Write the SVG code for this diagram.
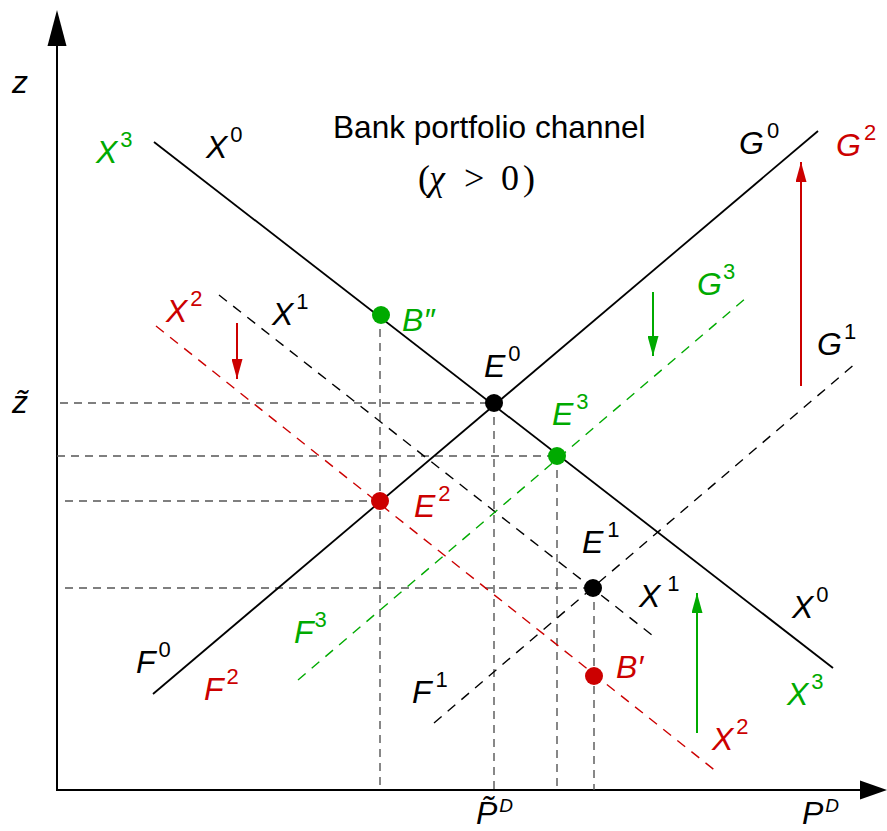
<svg xmlns="http://www.w3.org/2000/svg" width="887" height="831" viewBox="0 0 887 831">
<style>
.lab{font-family:"Liberation Sans",Arial,sans-serif;font-size:32px;font-style:italic}
.sup{font-size:22px;font-style:normal}
.supi{font-size:19px;font-style:italic}
.k{fill:#000}.r{fill:#cc0000}.g{fill:#00aa00}
.solid{stroke:#000;stroke-width:1.8;fill:none}
.dk{stroke:#000;stroke-width:1.4;stroke-dasharray:10 8;fill:none}
.dr{stroke:#cc0000;stroke-width:1.4;stroke-dasharray:10 8;fill:none}
.dg{stroke:#00aa00;stroke-width:1.4;stroke-dasharray:10 8;fill:none}
.guide{stroke:#555;stroke-width:1.4;stroke-dasharray:8 6;fill:none}
.axis{stroke:#000;stroke-width:2;fill:none}
</style>
<defs>
<marker id="ahR" markerUnits="userSpaceOnUse" markerWidth="20" markerHeight="11" refX="20" refY="5.5" orient="auto"><path d="M0,0 L20,5.5 L0,11 z" fill="#cc0000"/></marker>
<marker id="ahG" markerUnits="userSpaceOnUse" markerWidth="20" markerHeight="11" refX="20" refY="5.5" orient="auto"><path d="M0,0 L20,5.5 L0,11 z" fill="#00aa00"/></marker>
</defs>
<rect width="887" height="831" fill="#fff"/>
<g id="axes">
<line class="axis" x1="57" y1="791" x2="57" y2="40"/>
<polygon points="57,10 47.5,46 66.5,46" fill="#000"/>
<line class="axis" x1="56" y1="790" x2="862" y2="790"/>
<polygon points="887,790 860,780.5 860,799.5" fill="#000"/>
</g>
<g id="connectors">
<g id="guides">
<line class="guide" x1="60" y1="403" x2="494" y2="403"/>
<line class="guide" x1="57" y1="456" x2="557" y2="456"/>
<line class="guide" x1="65" y1="501" x2="380" y2="501"/>
<line class="guide" x1="65" y1="588" x2="593" y2="588"/>
<line class="guide" x1="380" y1="315" x2="380" y2="790"/>
<line class="guide" x1="494" y1="403" x2="494" y2="790"/>
<line class="guide" x1="557" y1="456" x2="557" y2="790"/>
<line class="guide" x1="594" y1="588" x2="594" y2="790"/>
</g>
<line id="X0" class="solid" x1="154" y1="142" x2="833" y2="668"/>
<line id="G0" class="solid" x1="153" y1="694" x2="818" y2="131"/>
<line id="X1" class="dk" x1="219" y1="295" x2="657" y2="639"/>
<line id="G1" class="dk" x1="434" y1="723" x2="856" y2="363"/>
<line id="X2" class="dr" x1="156" y1="326" x2="717" y2="772"/>
<line id="G3" class="dg" x1="298" y1="680" x2="746" y2="298"/>
<line id="arrR1" stroke="#cc0000" stroke-width="2" x1="801" y1="386" x2="801" y2="162" marker-end="url(#ahR)"/>
<line id="arrR2" stroke="#cc0000" stroke-width="2" x1="237" y1="323" x2="237" y2="379" marker-end="url(#ahR)"/>
<line id="arrG1" stroke="#00aa00" stroke-width="2" x1="653" y1="292" x2="653" y2="356" marker-end="url(#ahG)"/>
<line id="arrG2" stroke="#00aa00" stroke-width="2" x1="697" y1="733" x2="697" y2="593" marker-end="url(#ahG)"/>
</g>
<g id="E0"><circle cx="494" cy="403" r="9" fill="#000"/><text class="lab k" x="484" y="377">E<tspan class="sup" dx="3" dy="-16">0</tspan></text></g>
<g id="E3"><circle cx="557" cy="456" r="9" fill="#00aa00"/><text class="lab g" x="552" y="425">E<tspan class="sup" dx="3" dy="-16">3</tspan></text></g>
<g id="E2"><circle cx="380" cy="501" r="9" fill="#cc0000"/><text class="lab r" x="414" y="517">E<tspan class="sup" dx="3" dy="-16">2</tspan></text></g>
<g id="E1"><circle cx="593" cy="588" r="9" fill="#000"/><text class="lab k" x="582" y="553">E<tspan class="sup" dx="4" dy="-16">1</tspan></text></g>
<g id="B1"><circle cx="594" cy="676" r="9" fill="#cc0000"/><text class="lab r" x="616" y="678">B′</text></g>
<g id="B2"><circle cx="381" cy="315" r="9" fill="#00aa00"/><text class="lab g" x="402" y="331">B″</text></g>
<g id="labels">
<text class="lab k" x="12" y="93">z</text>
<text class="lab k" x="12" y="413">z̃</text>
<text class="lab g" x="96" y="163">X<tspan class="sup" dx="3" dy="-16">3</tspan></text>
<text class="lab k" x="206" y="158">X<tspan class="sup" dx="3" dy="-16">0</tspan></text>
<text x="333" y="138" font-family="Liberation Sans,Arial,sans-serif" font-size="31.6" fill="#000">Bank portfolio channel</text>
<g font-family="Liberation Serif,'Times New Roman',serif" font-size="36" fill="#000">
<text x="418" y="190">(</text><text x="429" y="190" font-style="italic">χ</text><text x="464" y="190">&gt;</text><text x="501" y="190">0</text><text x="523" y="190">)</text>
</g>
<text class="lab k" x="739" y="154">G<tspan class="sup" dx="3" dy="-16">0</tspan></text>
<text class="lab r" x="836" y="156">G<tspan class="sup" dx="3" dy="-16">2</tspan></text>
<text class="lab g" x="697" y="295">G<tspan class="sup" dx="1" dy="-16">3</tspan></text>
<text class="lab k" x="817" y="355">G<tspan class="sup" dx="2" dy="-16">1</tspan></text>
<text class="lab r" x="166" y="322">X<tspan class="sup" dx="3" dy="-16">2</tspan></text>
<text class="lab k" x="272" y="325">X<tspan class="sup" dx="3" dy="-16">1</tspan></text>
<text class="lab k" x="639" y="607">X<tspan class="sup" dx="7" dy="-16">1</tspan></text>
<text class="lab k" x="792" y="618">X<tspan class="sup" dx="3" dy="-16">0</tspan></text>
<text class="lab g" x="787" y="705">X<tspan class="sup" dx="3" dy="-16">3</tspan></text>
<text class="lab r" x="712" y="750">X<tspan class="sup" dx="3" dy="-16">2</tspan></text>
<text class="lab k" x="136" y="673">F<tspan class="sup" dx="3" dy="-16">0</tspan></text>
<text class="lab r" x="204" y="700">F<tspan class="sup" dx="3" dy="-16">2</tspan></text>
<text class="lab g" x="294" y="643">F<tspan class="sup" dx="1" dy="-16">3</tspan></text>
<text class="lab k" x="412" y="703">F<tspan class="sup" dx="4" dy="-16">1</tspan></text>
<text class="lab k" x="476" y="824">P̃<tspan class="supi" dx="2" dy="-12">D</tspan></text>
<text class="lab k" x="802" y="824">P<tspan class="supi" dx="2" dy="-12">D</tspan></text>
</g>
</svg>
